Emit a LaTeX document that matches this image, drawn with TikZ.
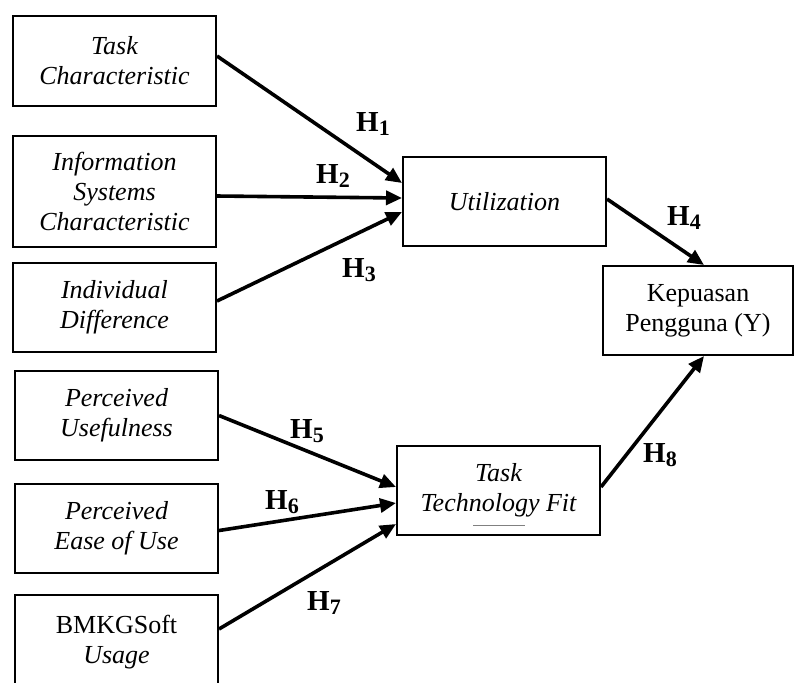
\documentclass[tikz,border=0pt]{standalone}
\usepackage{fontspec}
\setmainfont{Liberation Serif}
\usetikzlibrary{arrows.meta,positioning}

\newcommand{\hlab}[1]{H\raisebox{-0.3ex}{\fontsize{11}{11}\selectfont #1}}

\begin{document}
\begin{tikzpicture}[
    x=0.5pt, y=-0.5pt,
    box/.style={rectangle, draw, line width=1pt, minimum width=101.5pt, minimum height=44.5pt, align=center, font=\fontsize{13}{15}\selectfont\itshape},
    arrow/.style={-{Triangle[length=8pt,width=7pt]}, line width=1.8pt},
    hlabel/.style={font=\fontsize{14.5}{16}\selectfont\bfseries, inner sep=0pt}
]
\useasboundingbox (0,0) rectangle (795,682);

% left column
\node[box, minimum height=45pt] (tc) at (114.5,61) {Task\\Characteristic};
\node[box, minimum height=55.5pt, below=14pt of tc] (isc) {Information\\Systems\\Characteristic};
\node[box, below=7pt of isc] (ind) {Individual\\Difference};
\node[box, below=8.5pt of ind, xshift=1pt] (pu) {Perceived\\Usefulness};
\node[box, below=11pt of pu] (peu) {Perceived\\Ease of Use};
\node[box, minimum height=47pt, below=10pt of peu] (bmkg) {\upshape BMKGSoft\\Usage};

% right column
\node[box] (util) at (504.5,201.5) {Utilization};
\node[box, minimum width=95pt, font=\fontsize{13}{15}\selectfont] (kep) at (698,310.5) {Kepuasan\\Pengguna (Y)};
\node[box] (ttf) at (498.5,490.5) {Task\\Technology Fit};
\draw[gray, line width=0.3pt] ([xshift=-12.75pt, yshift=-17.25pt]ttf.center) -- ([xshift=13.25pt, yshift=-17.25pt]ttf.center);

\draw[arrow] ([yshift=2.5pt]tc.east) -- ([yshift=9.25pt]util.west);
\draw[arrow] ([yshift=-2.25pt]isc.east) -- ([yshift=1.75pt]util.west);
\draw[arrow] ([yshift=3.25pt]ind.east) -- ([yshift=-5.25pt]util.west);
\draw[arrow] ([yshift=1.25pt]util.east) -- ([xshift=3pt]kep.north);
\draw[arrow] (pu.east) -- ([yshift=1.75pt]ttf.west);
\draw[arrow] ([yshift=-1pt]peu.east) -- ([yshift=-6.25pt]ttf.west);
\draw[arrow] ([yshift=6.5pt]bmkg.east) -- ([yshift=-16.75pt]ttf.west);
\draw[arrow] ([yshift=1.75pt]ttf.east) -- ([xshift=3pt]kep.south);

% hypothesis labels
\node[hlabel] (h1) at (373,124) {\hlab{1}};
\node[hlabel] (h2) at (333,176) {\hlab{2}};
\node[hlabel] (h3) at (359,270) {\hlab{3}};
\node[hlabel] (h4) at (684,218) {\hlab{4}};
\node[hlabel] (h5) at (307,431) {\hlab{5}};
\node[hlabel] (h6) at (282,502) {\hlab{6}};
\node[hlabel] (h7) at (324,603) {\hlab{7}};
\node[hlabel] (h8) at (660,455) {\hlab{8}};
\end{tikzpicture}
\end{document}
